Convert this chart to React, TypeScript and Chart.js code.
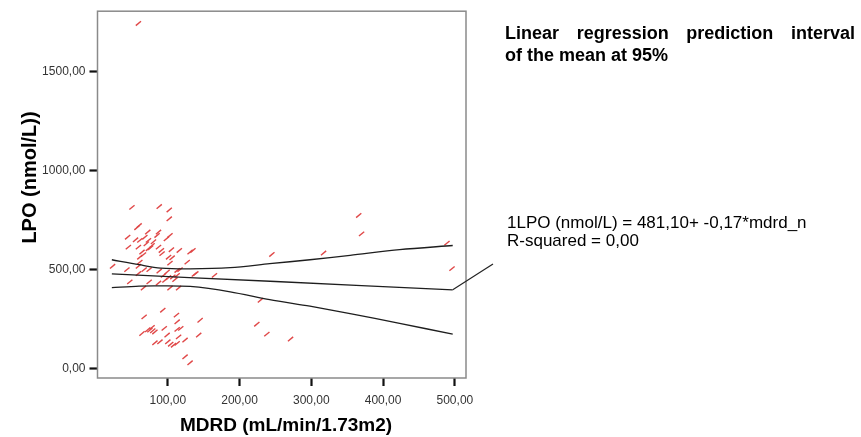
import React, { useEffect, useRef } from "react";
import { Chart, registerables } from "chart.js";

Chart.register(...registerables);

const FONT = "'Liberation Sans', Arial, Helvetica, sans-serif";

// axis ticks
const xTicks = [100, 200, 300, 400, 500];
const yTicks = [0, 500, 1000, 1500];

// scatter observations: MDRD (x) and LPO (y)
const mdrdX = [
  50, 88, 102, 102, 60, 57, 72, 87, 44, 68, 85, 103, 61, 73, 98, 78, 73, 87, 91, 105,
  116, 45, 59, 131, 135, 64, 101, 106, 61, 127, 103, 61, 23, 59, 67, 74, 43, 88, 99, 113,
  117, 59, 94, 101, 107, 113, 137, 139, 165, 110, 96, 87, 74, 47, 66, 103, 115, 93, 67, 112,
  113, 145, 78, 75, 82, 95, 113, 118, 64, 99, 115, 143, 82, 89, 100, 108, 113, 124, 124, 131,
  224, 229, 245, 238, 271, 366, 370, 317, 489, 496, 59, 70, 80, 76, 66, 92, 72, 79, 104, 55,
];
const lpoY = [
  814, 818, 801, 756, 722, 711, 689, 689, 663, 663, 672, 672, 647, 647, 655, 621, 605, 613, 596, 600,
  596, 613, 613, 588, 596, 588, 562, 559, 562, 537, 532, 537, 516, 516, 499, 499, 499, 492, 487, 495,
  499, 479, 470, 459, 462, 470, 475, 479, 470, 449, 445, 431, 437, 437, 406, 406, 406, 294, 260, 269,
  235, 243, 207, 193, 184, 202, 197, 202, 176, 168, 159, 168, 129, 134, 134, 117, 126, 143, 58, 28,
  223, 344, 576, 173, 148, 773, 680, 583, 633, 504, 1744, 630, 640, 610, 575, 580, 195, 190, 122, 650,
];

// 95% interval of the mean
const bandX = [22, 60, 90, 131, 187, 242, 298, 354, 423, 497];
const upperY = [549, 524, 507, 503, 509, 529, 549, 571, 600, 621];
const lowerY = [408, 416, 417, 414, 387, 347, 314, 277, 227, 173];

// fitted line
const fitX = [22, 130, 250, 370, 497];
const fitY = [478, 459, 439, 418, 397];

const titleLines = ["Linear regression prediction interval", "of the mean at 95%"];
const eqLines = ["1LPO (nmol/L) = 481,10+ -0,17*mdrd_n", "R-squared = 0,00"];
const xTitle = "MDRD (mL/min/1.73m2)";
const yTitle = "LPO (nmol/L))";

const fmt = (v: number) => v.toFixed(2).replace(".", ",");
const pts = (xs: number[], ys: number[]) => xs.map((x, i) => ({ x, y: ys[i] }));

const decorPlugin = {
  id: "decor",
  afterDraw(chart: any) {
    const { ctx, chartArea, scales } = chart;
    const { left, right, top, bottom } = chartArea;
    ctx.save();
    // frame
    ctx.strokeStyle = "#8a8a8a";
    ctx.lineWidth = 1.5;
    ctx.strokeRect(left, top, right - left, bottom - top);

    // leader line from the end of the fit line to the equation
    const ex = scales.x.getPixelForValue(fitX[fitX.length - 1]);
    const ey = scales.y.getPixelForValue(fitY[fitY.length - 1]);
    ctx.strokeStyle = "#222";
    ctx.lineWidth = 1.2;
    ctx.beginPath();
    ctx.moveTo(ex, ey);
    ctx.lineTo(right + 27, 264);
    ctx.stroke();

    ctx.fillStyle = "#000";
    // title (first line justified)
    ctx.font = `bold 18px ${FONT}`;
    ctx.textBaseline = "alphabetic";
    ctx.textAlign = "left";
    const words = titleLines[0].split(" ");
    const ws = words.map((w) => ctx.measureText(w).width);
    const total = ws.reduce((a, b) => a + b, 0);
    const target = 350;
    const gap = (target - total) / (words.length - 1);
    let x = 505;
    words.forEach((w, i) => {
      ctx.fillText(w, x, 39);
      x += ws[i] + gap;
    });
    ctx.fillText(titleLines[1], 505, 61);

    // equation
    ctx.font = `17px ${FONT}`;
    ctx.fillText(eqLines[0], 507, 228);
    ctx.fillText(eqLines[1], 507, 246);

    // axis titles
    ctx.font = `bold 19px ${FONT}`;
    ctx.textAlign = "center";
    ctx.fillText(xTitle, 286, 431);

    ctx.save();
    ctx.translate(30, 177.5);
    ctx.rotate(-Math.PI / 2);
    ctx.font = `bold 20px ${FONT}`;
    ctx.textBaseline = "middle";
    ctx.fillText(yTitle, 0, 0);
    ctx.restore();

    ctx.restore();
  },
};

export default function App() {
  const ref = useRef<HTMLCanvasElement>(null);
  useEffect(() => {
    document.body.style.margin = "0";
    const lineStyle = {
      type: "scatter" as const,
      showLine: true,
      borderColor: "#1e1e1e",
      borderWidth: 1.3,
      pointRadius: 0,
      fill: false,
      tension: 0.3,
    };
    const chart = new Chart(ref.current as HTMLCanvasElement, {
      type: "scatter",
      data: {
        datasets: [
          {
            ...lineStyle,
            label: "upper",
            data: pts(bandX, upperY),
          },
          {
            ...lineStyle,
            label: "lower",
            data: pts(bandX, lowerY),
          },
          {
            ...lineStyle,
            tension: 0,
            label: "fit",
            data: pts(fitX, fitY),
          },
          {
            label: "LPO",
            data: pts(mdrdX, lpoY),
            pointStyle: "line",
            rotation: -40,
            radius: 3.4,
            borderColor: "#e04848",
            borderWidth: 1.4,
            backgroundColor: "#e04848",
          },
        ],
      },
      options: {
        responsive: false,
        animation: false,
        devicePixelRatio: 1,
        layout: { padding: { left: 0, top: 10, right: 395, bottom: 0 } },
        plugins: {
          legend: { display: false },
          tooltip: { enabled: false },
          title: { display: false },
        },
        scales: {
          x: {
            type: "linear",
            min: 2,
            max: 515.5,
            afterBuildTicks: (s: any) => {
              s.ticks = xTicks.map((v) => ({ value: v }));
            },
            afterFit: (s: any) => {
              s.height = 59;
            },
            grid: {
              drawOnChartArea: false,
              drawTicks: true,
              tickLength: 8,
              tickColor: "#111",
              tickWidth: 2.2,
            },
            border: { display: false },
            ticks: {
              callback: (v: any) => fmt(Number(v)),
              font: { family: FONT, size: 12 },
              color: "#333",
              padding: 7,
              maxRotation: 0,
              autoSkip: false,
            },
          },
          y: {
            type: "linear",
            min: -49,
            max: 1806,
            afterBuildTicks: (s: any) => {
              s.ticks = yTicks.map((v) => ({ value: v }));
            },
            afterFit: (s: any) => {
              s.width = 97.5;
            },
            grid: {
              drawOnChartArea: false,
              drawTicks: true,
              tickLength: 8,
              tickColor: "#111",
              tickWidth: 2.2,
            },
            border: { display: false },
            ticks: {
              callback: (v: any) => fmt(Number(v)),
              font: { family: FONT, size: 12 },
              color: "#333",
              padding: 4,
              autoSkip: false,
            },
          },
        },
      },
      plugins: [decorPlugin],
    });
    return () => chart.destroy();
  }, []);
  return (
    <div style={{ position: "absolute", left: 0, top: 0, width: 861, height: 437, background: "#fff" }}>
      <canvas ref={ref} width={861} height={437} />
    </div>
  );
}
